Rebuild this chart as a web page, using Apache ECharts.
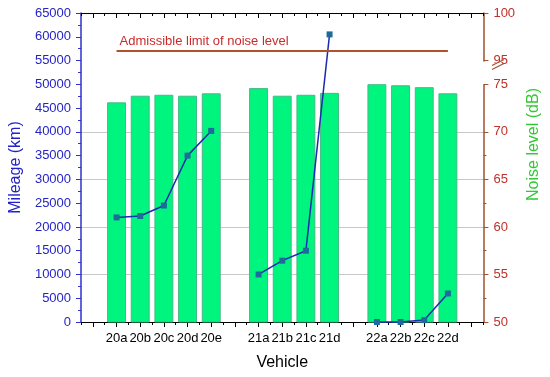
<!DOCTYPE html>
<html><head><meta charset="utf-8">
<script src="https://cdn.jsdelivr.net/npm/echarts@6/dist/echarts.min.js"></script>
<style>html,body{margin:0;padding:0;background:#fff}#c{width:550px;height:377px}</style>
</head><body><div id="c"></div>
<script>
// ---- data ----
const vehicles = ['20a','20b','20c','20d','20e','21a','21b','21c','21d','22a','22b','22c','22d'];
const mileage  = [22000, 22300, 24500, 35000, 40200, 10000, 12900, 15000, 60500, 0, 0, 400, 6000];
const noise    = [73.1, 73.8, 73.9, 73.8, 74.05, 74.6, 73.8, 73.9, 74.1, 75.1, 74.9, 74.7, 74.05];
const noiseLimit = 96;
const limitLabel = 'Admissible limit of noise level';
const mileageAxis = {min: 0, max: 65000, interval: 5000};
const noiseAxis = {min: 50, max: 100, interval: 5};
const noiseBreak = {start: 75, end: 95, gap: 2.5};

// ---- build category list with an empty slot between vehicle generations ----
const cats = [], mileageData = [], noiseData = [];
let pad = 0;
function gapSlot(){ pad++; cats.push(' '.repeat(pad)); mileageData.push(null); noiseData.push(null); }
gapSlot();
vehicles.forEach((v, i) => {
  if (i > 0 && v.slice(0,2) !== vehicles[i-1].slice(0,2)) gapSlot();
  cats.push(v); mileageData.push(mileage[i]); noiseData.push(noise[i]);
});
gapSlot();

const FONT = 'Liberation Sans, Arial, sans-serif';
const chart = echarts.init(document.getElementById('c'), null, {renderer: 'canvas'});

const baseX = {type: 'category', data: cats, boundaryGap: true, gridIndex: 0};
chart.setOption({
  animation: false,
  backgroundColor: '#fff',
  textStyle: {fontFamily: FONT},
  grid: {left: 79, right: 52, top: 13, bottom: 55, containLabel: false},
  xAxis: [
    Object.assign({}, baseX, {position: 'bottom',
      name: 'Vehicle', nameLocation: 'middle', nameGap: 33,
      nameTextStyle: {fontSize: 16, color: '#000', fontFamily: FONT},
      axisLine: {show: true, lineStyle: {color: '#000', width: 1.2}},
      axisTick: {show: true, alignWithLabel: true, interval: 0, length: 5, inside: false, lineStyle: {color: '#000'}},
      axisLabel: {show: true, interval: 0, margin: 10, fontSize: 13, color: '#000', fontFamily: FONT},
      splitLine: {show: false}}),
    Object.assign({}, baseX, {position: 'bottom',
      axisLine: {show: false},
      axisTick: {show: true, alignWithLabel: false, interval: 0, length: 3, inside: false, lineStyle: {color: '#000'}},
      axisLabel: {show: false}, splitLine: {show: false}}),
    Object.assign({}, baseX, {position: 'top',
      axisLine: {show: true, lineStyle: {color: '#000', width: 1.2}},
      axisTick: {show: true, alignWithLabel: true, interval: 0, length: 5, inside: true, lineStyle: {color: '#000'}},
      axisLabel: {show: false}, splitLine: {show: false}}),
    Object.assign({}, baseX, {position: 'top',
      axisLine: {show: false},
      axisTick: {show: true, alignWithLabel: false, interval: 0, length: 3, inside: true, lineStyle: {color: '#000'}},
      axisLabel: {show: false}, splitLine: {show: false}})
  ],
  yAxis: [
    {type: 'value', position: 'left', min: mileageAxis.min, max: mileageAxis.max, interval: mileageAxis.interval,
      name: 'Mileage (km)', nameLocation: 'middle', nameGap: 54, nameRotate: 90,
      nameTextStyle: {fontSize: 16, color: '#2222C8', fontFamily: FONT},
      axisLine: {show: true, lineStyle: {color: '#3030CC', width: 1.5}},
      axisTick: {show: true, length: 5, inside: false, lineStyle: {color: '#3030CC'}},
      minorTick: {show: true, splitNumber: 2, length: 3, lineStyle: {color: '#3030CC'}},
      axisLabel: {fontSize: 13, color: '#2424C4', margin: 10, fontFamily: FONT, formatter: v => String(v)},
      splitLine: {show: false}},
    {type: 'value', position: 'right', min: noiseAxis.min, max: noiseAxis.max, interval: noiseAxis.interval,
      breaks: [{start: noiseBreak.start, end: noiseBreak.end, gap: noiseBreak.gap}],
      breakArea: {show: false},
      name: 'Noise level (dB)', nameLocation: 'middle', nameGap: 29, nameRotate: 90,
      nameTextStyle: {fontSize: 16, color: '#33C833', fontFamily: FONT, padding: [0, 0, 0, 46]},
      axisLine: {show: true, lineStyle: {color: '#A0522D', width: 1.5}},
      axisTick: {show: true, length: 5, inside: false, lineStyle: {color: '#A0522D'}},
      minorTick: {show: true, splitNumber: 2, length: 3, lineStyle: {color: '#A0522D'}},
      axisLabel: {fontSize: 13, color: '#C0302A', margin: 10, fontFamily: FONT},
      splitLine: {show: true, lineStyle: {color: '#C8C8C8', width: 1}}}
  ],
  series: [
    {type: 'bar', name: 'Noise level', xAxisIndex: 0, yAxisIndex: 1, data: noiseData,
      barWidth: '80%', z: 2,
      itemStyle: {color: '#00F57F', borderColor: '#45B985', borderWidth: 1},
      markLine: {silent: true, symbol: 'none', animation: false,
        lineStyle: {color: '#B0522D', width: 2, type: 'solid'},
        label: {show: true, position: 'insideStartTop', formatter: limitLabel, color: '#CC2A2A',
          fontSize: 13, fontFamily: FONT, distance: [3, 3]},
        data: [[{coord: [vehicles[0], noiseLimit]}, {coord: [vehicles[vehicles.length-1], noiseLimit]}]]}},
    {type: 'line', name: 'Mileage', xAxisIndex: 0, yAxisIndex: 0, data: mileageData, z: 3,
      connectNulls: false, symbol: 'rect', symbolSize: 6, clip: false,
      lineStyle: {color: '#1C2AB0', width: 1.5},
      itemStyle: {color: '#1E6A9A'}}
  ]
});

// axis break marker "//" on the right axis
const yA = chart.convertToPixel({yAxisIndex: 1}, noiseBreak.end);
const axX = 498;
chart.setOption({graphic: [
  {type: 'rect', shape: {x: axX - 3, y: yA + 2, width: 6, height: 5}, style: {fill: '#fff'}, z: 100},
  {type: 'line', shape: {x1: axX - 6, y1: yA + 5, x2: axX + 6, y2: yA - 1}, style: {stroke: '#A0522D', lineWidth: 1.2}, z: 101},
  {type: 'line', shape: {x1: axX - 6, y1: yA + 9, x2: axX + 6, y2: yA + 3}, style: {stroke: '#A0522D', lineWidth: 1.2}, z: 101}
]});
</script></body></html>
